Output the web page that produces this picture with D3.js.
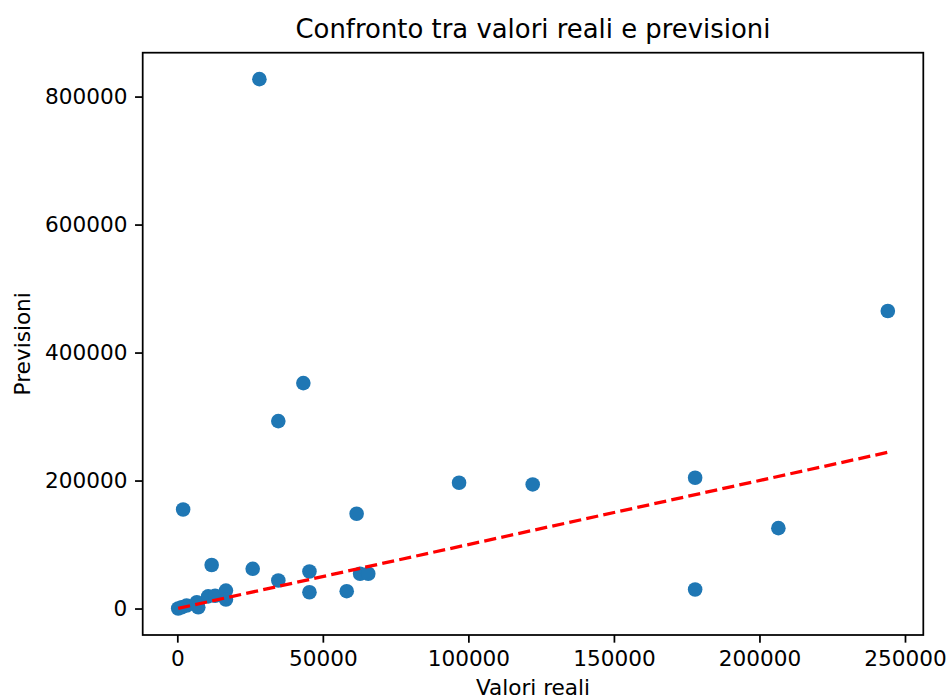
<!DOCTYPE html>
<html>
<head>
<meta charset="utf-8">
<script src="https://cdn.jsdelivr.net/npm/d3@7"></script>
<style>
  html, body { margin: 0; padding: 0; background: #fff; }
  svg { display: block; font-family: "DejaVu Sans", sans-serif; }
</style>
</head>
<body>
<svg id="chart" width="946" height="699"></svg>
<script>
// ---- Data ----
const realValues = [300, 1500, 3200, 6700, 7200, 10600, 13000, 16700, 16700, 2000, 11800,
  25900, 28200, 34700, 34700, 43300, 45400, 45400, 58200, 61600, 62800, 65600,
  96800, 122100, 177900, 177900, 206500, 244100];
const predictedValues = [0, 2000, 4700, 9900, 2000, 19000, 20000, 28000, 14000, 154800, 68000,
  62100, 827200, 292900, 43800, 352300, 57900, 25500, 27100, 148100, 54300, 54300,
  196600, 193900, 204400, 29700, 125600, 464900];
const xTickValues = [0, 50000, 100000, 150000, 200000, 250000];
const yTickValues = [0, 200000, 400000, 600000, 800000];
const titleText = "Confronto tra valori reali e previsioni";
const xLabelText = "Valori reali";
const yLabelText = "Previsioni";

(function () {
// ---- Layout ----
const svg = d3.select("#chart");
const pLeft = 142.7, pRight = 923.3, pTop = 52.7, pBottom = 635;
const pt = 2.19; // px per point

const points = realValues.map((v, i) => ({ x: v, y: predictedValues[i] }));
const lineMin = d3.min(realValues), lineMax = d3.max(realValues);
const idealLine = [{ x: lineMin, y: lineMin }, { x: lineMax, y: lineMax }];

function padded(vals) {
  const lo = d3.min(vals), hi = d3.max(vals), r = hi - lo;
  return [lo - 0.05 * r, hi + 0.05 * r];
}
const x = d3.scaleLinear().domain(padded(realValues.concat([lineMin, lineMax]))).range([pLeft, pRight]);
const y = d3.scaleLinear().domain(padded(predictedValues.concat([lineMin, lineMax]))).range([pBottom, pTop]);

const plot = svg.append("g");
plot.append("defs").append("clipPath").attr("id", "clip")
  .append("rect").attr("x", pLeft).attr("y", pTop).attr("width", pRight - pLeft).attr("height", pBottom - pTop);

// points
plot.append("g").attr("clip-path", "url(#clip)")
  .selectAll("circle").data(points).join("circle")
  .attr("cx", d => x(d.x)).attr("cy", d => y(d.y))
  .attr("r", 7.3).attr("fill", "#1f77b4");

// ideal line
plot.append("path").datum(idealLine)
  .attr("d", d3.line().x(d => x(d.x)).y(d => y(d.y)))
  .attr("fill", "none").attr("stroke", "#ff0000")
  .attr("stroke-width", 1.5 * pt)
  .attr("stroke-dasharray", `${3.7 * 1.5 * pt},${1.6 * 1.5 * pt}`);

// axes
const fmt = d3.format("d");
const xAxis = svg.append("g").attr("transform", `translate(0,${pBottom})`)
  .call(d3.axisBottom(x).tickValues(xTickValues).tickFormat(fmt)
    .tickSizeOuter(0).tickSizeInner(3.5 * pt).tickPadding(3.5 * pt));
const yAxis = svg.append("g").attr("transform", `translate(${pLeft},0)`)
  .call(d3.axisLeft(y).tickValues(yTickValues).tickFormat(fmt)
    .tickSizeOuter(0).tickSizeInner(3.5 * pt).tickPadding(3.5 * pt));
[xAxis, yAxis].forEach(a => {
  a.select(".domain").remove();
  a.selectAll(".tick line").attr("stroke", "#000").attr("stroke-width", 0.8 * pt);
  a.selectAll(".tick text").attr("fill", "#000")
    .style("font-size", "21.6px").style("font-family", "DejaVu Sans");
});

// frame
svg.append("rect").attr("x", pLeft).attr("y", pTop)
  .attr("width", pRight - pLeft).attr("height", pBottom - pTop)
  .attr("fill", "none").attr("stroke", "#000").attr("stroke-width", 0.8 * pt);

// texts
svg.append("text").attr("x", (pLeft + pRight) / 2).attr("y", 38)
  .attr("text-anchor", "middle").style("font-size", "25.9px").text(titleText);
svg.append("text").attr("x", (pLeft + pRight) / 2).attr("y", 695)
  .attr("text-anchor", "middle").style("font-size", "21.6px").text(xLabelText);
svg.append("text").attr("transform", `translate(30,${(pTop + pBottom) / 2}) rotate(-90)`)
  .attr("text-anchor", "middle").style("font-size", "21.6px").text(yLabelText);
})();
</script>
</body>
</html>
